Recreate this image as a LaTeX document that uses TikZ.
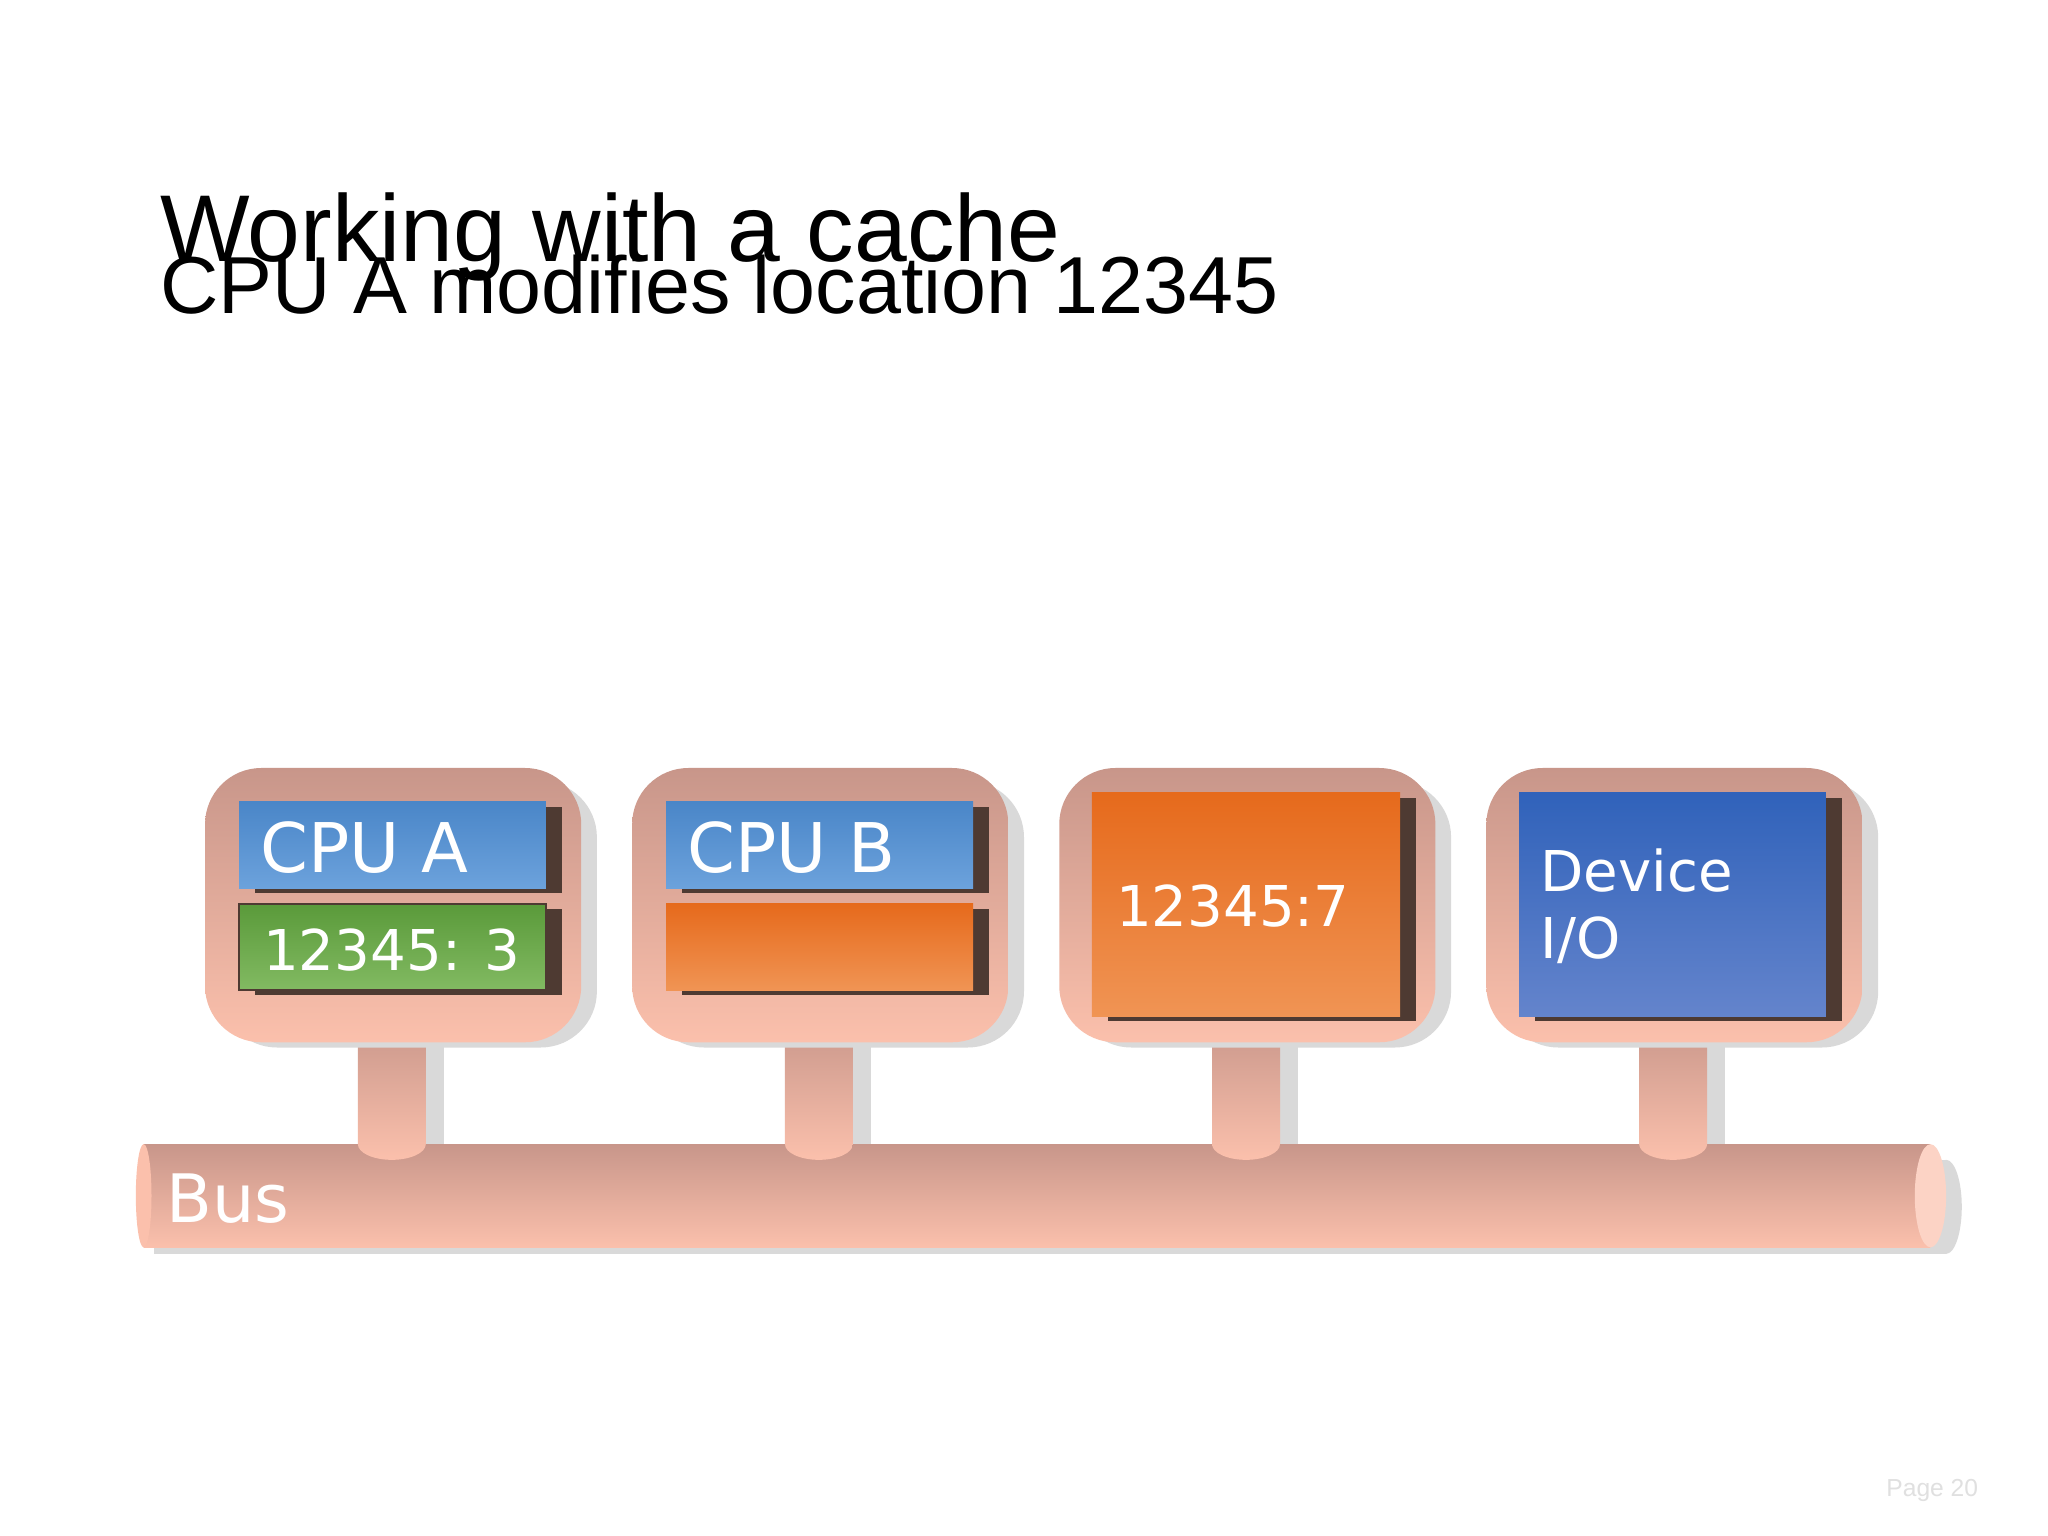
\documentclass[tikz,border=0pt]{standalone}
\usepackage{fontspec}
\setmainfont{Liberation Sans}
\newfontfamily\dvs{DejaVu Sans}
\begin{document}
\begin{tikzpicture}[x=0.013061cm,y=-0.013061cm,
 outer/.style={rounded corners=16pt,top color=outtop,bottom color=outbot,draw=none},
 shad/.style={rounded corners=16pt,fill=black!15},
 dark/.style={fill=darkbr},
 lbl/.style={text=white,font=\dvs,anchor=west,align=left}]
\definecolor{outtop}{HTML}{C8968A}
\definecolor{outbot}{HTML}{FBC0AC}
\definecolor{darkbr}{HTML}{4E3A32}
\definecolor{bluet}{HTML}{4A86C8}\definecolor{blueb}{HTML}{6CA2DC}
\definecolor{greent}{HTML}{5A9A3A}\definecolor{greenb}{HTML}{82BA62}
\definecolor{oranget}{HTML}{E66A1C}\definecolor{orangeb}{HTML}{F09454}
\definecolor{devt}{HTML}{3062BA}\definecolor{devb}{HTML}{6484CC}
\useasboundingbox[fill=white] (0,0) rectangle (1568,1176);
\node[anchor=base west,font=\fontsize{27}{30}\selectfont,inner sep=0] (title) at (122,200) {Working with a cache};
\node[anchor=base west,font=\fontsize{23}{28}\selectfont,inner sep=0] (sub) at (122,240) {CPU A modifies location 12345};
% bus
\fill[black!15] (118,888) rectangle (1490,960);
\fill[black!15] (1490,924) ellipse (12 and 36);
\shade[top color=outtop,bottom color=outbot] (110,876) rectangle (1478,955);
\fill[outbot] (110,915.5) ellipse (6 and 39.5);
\fill[outbot!70!white] (1478,915.5) ellipse (12 and 39.5);
\node[lbl,font=\dvs\fontsize{19}{24}\selectfont] (bus) at (118,918) {Bus};
% stems and boxes
\foreach \x/\n in {157/a,484/b,811/c,1138/d}{
 \fill[black!15] (\x+129,798) rectangle (\x+183,876);
 \shade[top color=outtop,bottom color=outbot] (\x+117,780) -- (\x+117,876) arc (180:0:26 and 12) -- (\x+169,780) -- cycle;
 \fill[shad] (\x+12,598) rectangle (\x+300,802);
 \shade[outer] (\x,588) rectangle (\x+288,798);
}
% CPU A
\fill[dark] (195,618) rectangle (430,684);
\shade[top color=bluet,bottom color=blueb] (183,614) rectangle (418,680);
\node[lbl,font=\dvs\fontsize{19.5}{24}\selectfont] (cpua) at (190,649) {CPU A};
\fill[dark] (195,696) rectangle (430,762);
\shade[top color=greent,bottom color=greenb,draw=darkbr] (183,692) rectangle (418,758);
\node[lbl,font=\dvs\fontsize{16}{20}\selectfont] (ca) at (192,727) {12345: 3};
% CPU B
\fill[dark] (522,618) rectangle (757,684);
\shade[top color=bluet,bottom color=blueb] (510,614) rectangle (745,680);
\node[lbl,font=\dvs\fontsize{19.5}{24}\selectfont] (cpub) at (517,649) {CPU B};
\fill[dark] (522,696) rectangle (757,762);
\shade[top color=oranget,bottom color=orangeb] (510,692) rectangle (745,758);
% memory
\fill[dark] (848,611) rectangle (1084,782);
\shade[top color=oranget,bottom color=orangeb] (836,607) rectangle (1072,778);
\node[lbl,font=\dvs\fontsize{16}{20}\selectfont] (mem) at (845,694) {12345:7};
% device
\fill[dark] (1175,611) rectangle (1410,782);
\shade[top color=devt,bottom color=devb] (1163,607) rectangle (1398,778);
\node[lbl,font=\dvs\fontsize{16}{19}\selectfont] (dev) at (1170,694) {Device\\I/O};
\node[anchor=east,text=black!12,font=\fontsize{7}{8}\selectfont] (pg) at (1524,1141) {Page 20};
\end{tikzpicture}
\end{document}
